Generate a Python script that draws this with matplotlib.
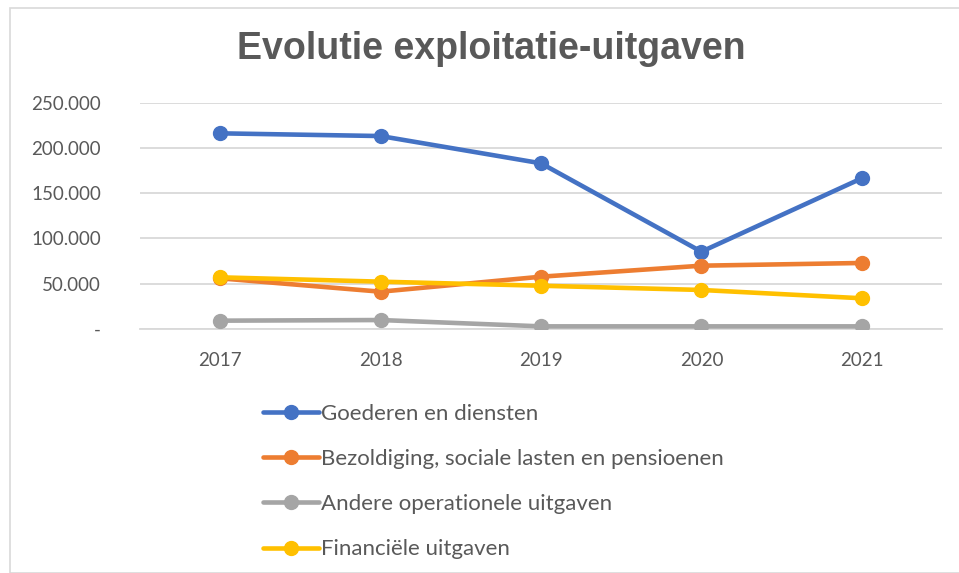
import matplotlib
matplotlib.use("Agg")
import matplotlib.pyplot as plt
from matplotlib.patches import Rectangle

years = ["2017", "2018", "2019", "2020", "2021"]
goederen = [216400, 213400, 183200, 85300, 166600]
bezoldiging = [55800, 41000, 57600, 69800, 72800]
andere = [8900, 9600, 2600, 2600, 2600]
financiele = [56900, 52100, 47600, 42900, 33700]
series_names = ["Goederen en diensten",
                "Bezoldiging, sociale lasten en pensioenen",
                "Andere operationele uitgaven",
                "Financiële uitgaven"]
y_ticks = [0, 50000, 100000, 150000, 200000, 250000]
y_tick_labels = ["-", "50.000", "100.000", "150.000", "200.000", "250.000"]
title = "Evolutie exploitatie-uitgaven"

colors = ["#4472C4", "#ED7D31", "#A5A5A5", "#FFC000"]
txt = "#595959"
font = ["Lato", "DejaVu Sans"]

fig = plt.figure(figsize=(9.59, 5.73), dpi=100)
fig.patches.append(Rectangle((10/959, 0), 1.2, (573-8)/573, transform=fig.transFigure,
                             fill=False, edgecolor="#D9D9D9", linewidth=1.2))
ax = fig.add_axes([140/959, 1-328.7/573, (942-140)/959, (328.7-103)/573])

x = list(range(len(years)))
for vals, name, c in zip([goederen, bezoldiging, andere, financiele], series_names, colors):
    ax.plot(x, vals, color=c, lw=3.3, marker="o", markersize=10, label=name,
            solid_capstyle="round", zorder=3)

ax.set_xlim(-0.5, 4.5)
ax.set_ylim(0, 250000)
ax.set_yticks(y_ticks)
ax.set_yticklabels(y_tick_labels)
ax.set_xticks(x)
ax.set_xticklabels(years)
ax.grid(axis="y", color="#D9D9D9", lw=1.3)
ax.set_axisbelow(True)
for s in ["top", "right", "left"]:
    ax.spines[s].set_visible(False)
ax.spines["bottom"].set_color("#D9D9D9")
ax.spines["bottom"].set_linewidth(1.3)
ax.tick_params(axis="both", length=0, colors=txt, labelsize=13.5)
ax.tick_params(axis="y", pad=28)
ax.tick_params(axis="x", pad=17)
for lab in ax.get_xticklabels() + ax.get_yticklabels():
    lab.set_family(font)

fig.text(491/959, 1-49/573, title, ha="center", va="center", fontsize=27,
         fontweight="bold", color=txt, family=["Liberation Sans", "DejaVu Sans"])

leg = fig.legend(loc="upper left", bbox_to_anchor=(243/959, 1-384/573),
                 frameon=False, handlelength=2.5, handletextpad=0.1,
                 labelspacing=1.13, prop={"family": font, "size": 16})
for t in leg.get_texts():
    t.set_color(txt)

fig.savefig("out.png", dpi=100)
